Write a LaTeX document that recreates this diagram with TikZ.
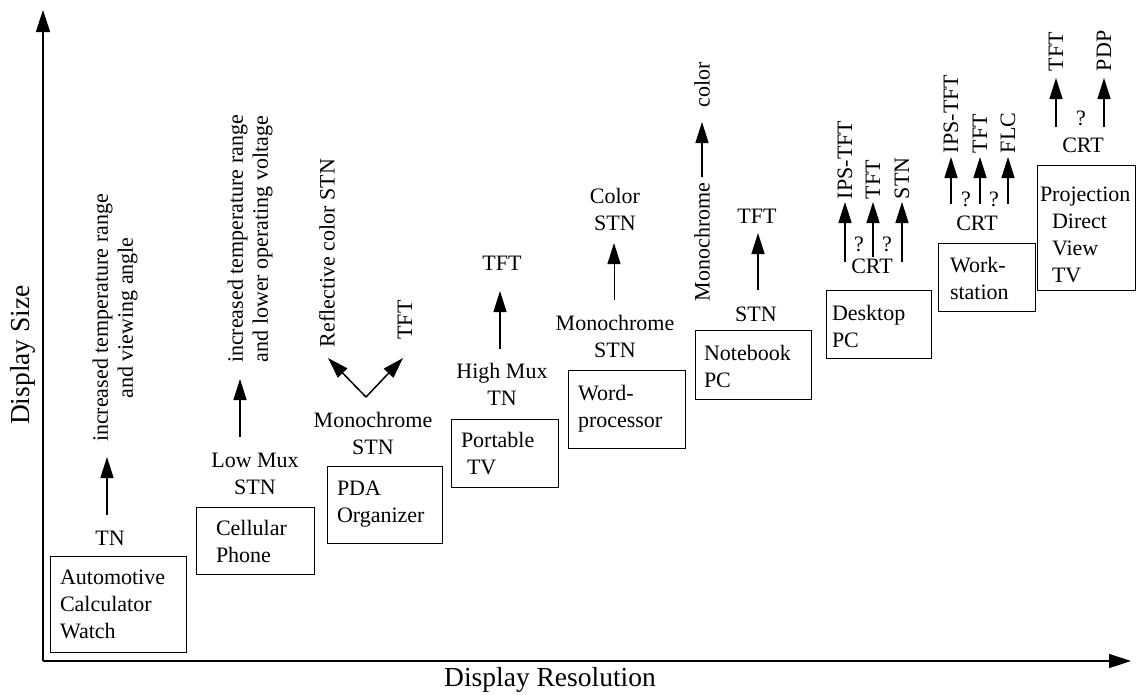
\documentclass[tikz,border=0pt]{standalone}
\usepackage{fontspec}
\setmainfont{Liberation Serif}
\usetikzlibrary{arrows.meta}
\begin{document}
\begin{tikzpicture}[x=1pt,y=-1pt,
  lbl/.style={font=\fontsize{22}{27}\selectfont, inner sep=0pt, outer sep=0pt},
  rlbl/.style={font=\fontsize{22}{25}\selectfont, inner sep=0pt, outer sep=0pt, rotate=90},
  axlbl/.style={font=\fontsize{27.5}{30}\selectfont, inner sep=0pt},
  box/.style={draw, line width=1pt, inner sep=0pt, anchor=north west},
  arr/.style={line width=1.5pt, -{Triangle[length=21pt,width=13pt]}},
  axis/.style={line width=1.5pt, -{Triangle[length=22pt,width=14pt]}}]
\useasboundingbox (0,0) rectangle (1137,694);

% axes
\coordinate (O) at (43,661);
\coordinate (ytip) at (43,10);
\coordinate (xtip) at (1131,661);
\draw[axis] (O) -- (ytip);
\draw[axis] (O) -- (xtip);
\node[axlbl, rotate=90] (ylab) at (23,355) {Display Size};
\node[axlbl] (xlab) at (550,680) {Display Resolution};

% boxes
\node[box, minimum width=136pt, minimum height=96pt] (bAuto) at (50,556) {};
\node[box, minimum width=118pt, minimum height=67pt] (bCell) at (196,507) {};
\node[box, minimum width=115pt, minimum height=77pt] (bPDA) at (327,466) {};
\node[box, minimum width=107pt, minimum height=68pt] (bTV) at (451,419) {};
\node[box, minimum width=117pt, minimum height=78pt] (bWord) at (568,370) {};
\node[box, minimum width=116pt, minimum height=69pt] (bNote) at (695,330) {};
\node[box, minimum width=105pt, minimum height=68pt] (bDesk) at (826,290) {};
\node[box, minimum width=97pt, minimum height=68pt] (bWork) at (938,243) {};
\node[box, minimum width=98pt, minimum height=125pt] (bProj) at (1037,165) {};

% box texts (anchor base = baseline of last line)
\node[lbl, anchor=base west, align=left] (tAuto) at (60,638) {Automotive\\Calculator\\Watch};
\node[lbl, anchor=base west, align=left] (tCell) at (216,562) {Cellular\\Phone};
\node[lbl, anchor=base west, align=left] (tPDA) at (337,522) {PDA\\Organizer};
\node[lbl, anchor=base west, align=left] (tTV) at (461,474) {Portable\\\hspace*{6pt}TV};
\node[lbl, anchor=base west, align=left] (tWord) at (578,427) {Word-\\processor};
\node[lbl, anchor=base west, align=left] (tNote) at (704,387) {Notebook\\PC};
\node[lbl, anchor=base west, align=left] (tDesk) at (832,347) {Desktop\\PC};
\node[lbl, anchor=base west, align=left] (tWork) at (950,299) {Work-\\station};
\node[lbl, anchor=base west, align=left] (tProj) at (1040,282) {Projection\\\hspace*{12pt}Direct\\\hspace*{12pt}View\\\hspace*{12pt}TV};

% technology labels
\node[lbl, anchor=base] (lTN) at (110,545) {TN};
\node[lbl, anchor=base, align=center] (lLow) at (255,494) {Low Mux\\STN};
\node[lbl, anchor=base, align=center] (lMono1) at (373,454) {Monochrome\\STN};
\node[lbl, anchor=base, align=center] (lHigh) at (502,405) {High Mux\\TN};
\node[lbl, anchor=base] (lTFT1) at (502,270) {TFT};
\node[lbl, anchor=base, align=center] (lMono2) at (615,357) {Monochrome\\STN};
\node[lbl, anchor=base, align=center] (lColor) at (615,230) {Color\\STN};
\node[lbl, anchor=base] (lSTN) at (756,321) {STN};
\node[lbl, anchor=base] (lTFT2) at (757,223) {TFT};
\node[lbl, anchor=base] (lCRT1) at (872,273) {CRT};
\node[lbl, anchor=base] (q1) at (859,251) {?};
\node[lbl, anchor=base] (q2) at (887,251) {?};
\node[lbl, anchor=base] (lCRT2) at (977,230) {CRT};
\node[lbl, anchor=base] (q3) at (966,206) {?};
\node[lbl, anchor=base] (q4) at (994,206) {?};
\node[lbl, anchor=base] (lCRT3) at (1083,152) {CRT};
\node[lbl, anchor=base] (q5) at (1081,125) {?};

% rotated labels
\node[rlbl, align=center] (r1) at (115,318) {increased temperature range\\and viewing angle};
\node[rlbl, align=center] (r2) at (250,239) {increased temperature range\\and lower operating voltage};
\node[rlbl] (rRefl) at (327,253) {Reflective color STN};
\node[rlbl] (rTFT1) at (405,320) {TFT};
\node[rlbl] (rMono) at (702,242) {Monochrome};
\node[rlbl] (rColor) at (702,85) {color};
\node[rlbl, anchor=west] (dIPS) at (845,199) {IPS-TFT};
\node[rlbl, anchor=west] (dTFT) at (873,199) {TFT};
\node[rlbl, anchor=west] (dSTN) at (902,199) {STN};
\node[rlbl, anchor=west] (wIPS) at (951,153) {IPS-TFT};
\node[rlbl, anchor=west] (wTFT) at (980,153) {TFT};
\node[rlbl, anchor=west] (wFLC) at (1008,153) {FLC};
\node[rlbl, anchor=west] (pTFT) at (1056,71) {TFT};
\node[rlbl, anchor=west] (pPDP) at (1104,71) {PDP};

% arrow end points
\coordinate (a1s) at (107,515); \coordinate (a1e) at (107,457);
\coordinate (a2s) at (240,437); \coordinate (a2e) at (240,379);
\coordinate (vv) at (366,397); \coordinate (vl) at (328,358); \coordinate (vr) at (403,358);
\coordinate (a4s) at (500,349); \coordinate (a4e) at (500,291);
\coordinate (a5s) at (614,300); \coordinate (a5e) at (614,243);
\coordinate (a6s) at (758,290); \coordinate (a6e) at (758,233);
\coordinate (a7s) at (702,177); \coordinate (a7e) at (702,122);
\coordinate (d1s) at (845,262); \coordinate (d1e) at (845,202);
\coordinate (d2s) at (873,257); \coordinate (d2e) at (873,202);
\coordinate (d3s) at (902,262); \coordinate (d3e) at (902,202);
\coordinate (w1s) at (951,204); \coordinate (w1e) at (951,157);
\coordinate (w2s) at (980,204); \coordinate (w2e) at (980,157);
\coordinate (w3s) at (1008,204); \coordinate (w3e) at (1008,157);
\coordinate (p1s) at (1056,127); \coordinate (p1e) at (1056,78);
\coordinate (p2s) at (1104,127); \coordinate (p2e) at (1104,78);

\draw[arr] (a1s) -- (a1e);
\draw[arr] (a2s) -- (a2e);
\draw[arr] (vv) -- (vl);
\draw[arr] (vv) -- (vr);
\draw[arr] (a4s) -- (a4e);
\draw[arr, line width=1pt] (a5s) -- (a5e);
\draw[arr] (a6s) -- (a6e);
\draw[arr] (a7s) -- (a7e);
\draw[arr] (d1s) -- (d1e);
\draw[arr] (d2s) -- (d2e);
\draw[arr] (d3s) -- (d3e);
\draw[arr] (w1s) -- (w1e);
\draw[arr] (w2s) -- (w2e);
\draw[arr] (w3s) -- (w3e);
\draw[arr] (p1s) -- (p1e);
\draw[arr] (p2s) -- (p2e);
\end{tikzpicture}
\end{document}
